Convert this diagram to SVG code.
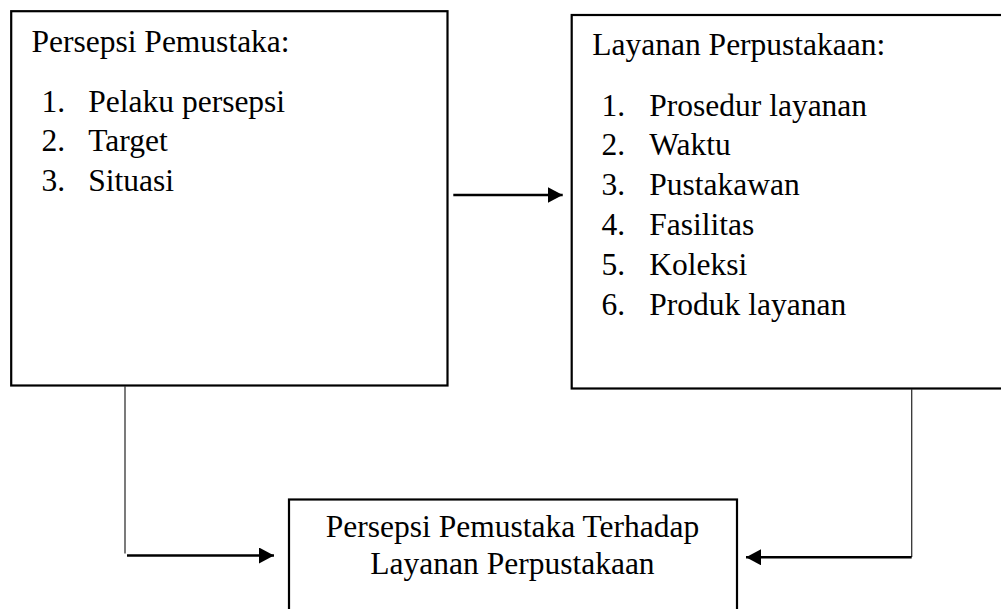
<svg xmlns="http://www.w3.org/2000/svg" width="1001" height="609" viewBox="0 0 1001 609">
<style>
  .box { fill: #ffffff; stroke: #000000; stroke-width: 2.2; }
  .t { font-family: "Liberation Serif", "Times New Roman", serif; font-size: 31.5px; fill: #000000; }
  .c { text-anchor: middle; }
  .arr { fill: none; stroke: #000000; stroke-width: 2.4; }
  .thin { fill: none; stroke: #333333; stroke-width: 1.3; }
</style>
<defs>
  <marker id="ah" viewBox="0 0 15 16" refX="15" refY="8" markerWidth="15" markerHeight="16" markerUnits="userSpaceOnUse" orient="auto">
    <path d="M0,0 L15,8 L0,16 Z" fill="#000000"/>
  </marker>
</defs>
<rect width="1001" height="609" fill="#ffffff"/>

<g id="node-persepsi">
  <rect class="box" x="11.2" y="11.2" width="436.3" height="374.3"/>
  <text class="t" x="31.5" y="51.7">Persepsi Pemustaka:</text>
  <text class="t" x="41.5" y="111.7">1.</text>
  <text class="t" x="88.3" y="111.7">Pelaku persepsi</text>
  <text class="t" x="41.5" y="151">2.</text>
  <text class="t" x="88.3" y="151">Target</text>
  <text class="t" x="41.5" y="190.7">3.</text>
  <text class="t" x="88.3" y="190.7">Situasi</text>
</g>

<g id="node-layanan">
  <rect class="box" x="571.7" y="15" width="440" height="373.5"/>
  <text class="t" x="592.3" y="55">Layanan Perpustakaan:</text>
  <text class="t" x="601.5" y="115.5">1.</text>
  <text class="t" x="649.3" y="115.5">Prosedur layanan</text>
  <text class="t" x="601.5" y="155.3">2.</text>
  <text class="t" x="649.3" y="155.3">Waktu</text>
  <text class="t" x="601.5" y="195">3.</text>
  <text class="t" x="649.3" y="195">Pustakawan</text>
  <text class="t" x="601.5" y="235">4.</text>
  <text class="t" x="649.3" y="235">Fasilitas</text>
  <text class="t" x="601.5" y="275">5.</text>
  <text class="t" x="649.3" y="275">Koleksi</text>
  <text class="t" x="601.5" y="315">6.</text>
  <text class="t" x="649.3" y="315">Produk layanan</text>
</g>

<g id="node-hasil">
  <rect class="box" x="289" y="499.5" width="448" height="130"/>
  <text class="t c" x="512.5" y="537">Persepsi Pemustaka Terhadap</text>
  <text class="t c" x="512.5" y="574">Layanan Perpustakaan</text>
</g>

<g id="connectors">
  <path class="arr" d="M453.3,195 L562.7,195" marker-end="url(#ah)"/>
  <path class="thin" d="M125,386 L125,553.5"/>
  <path class="arr" d="M127,555.5 L274,555.5" marker-end="url(#ah)"/>
  <path class="thin" d="M911.7,389 L911.7,557"/>
  <path class="arr" d="M911.7,557.3 L746,557.3" marker-end="url(#ah)"/>
</g>
</svg>
